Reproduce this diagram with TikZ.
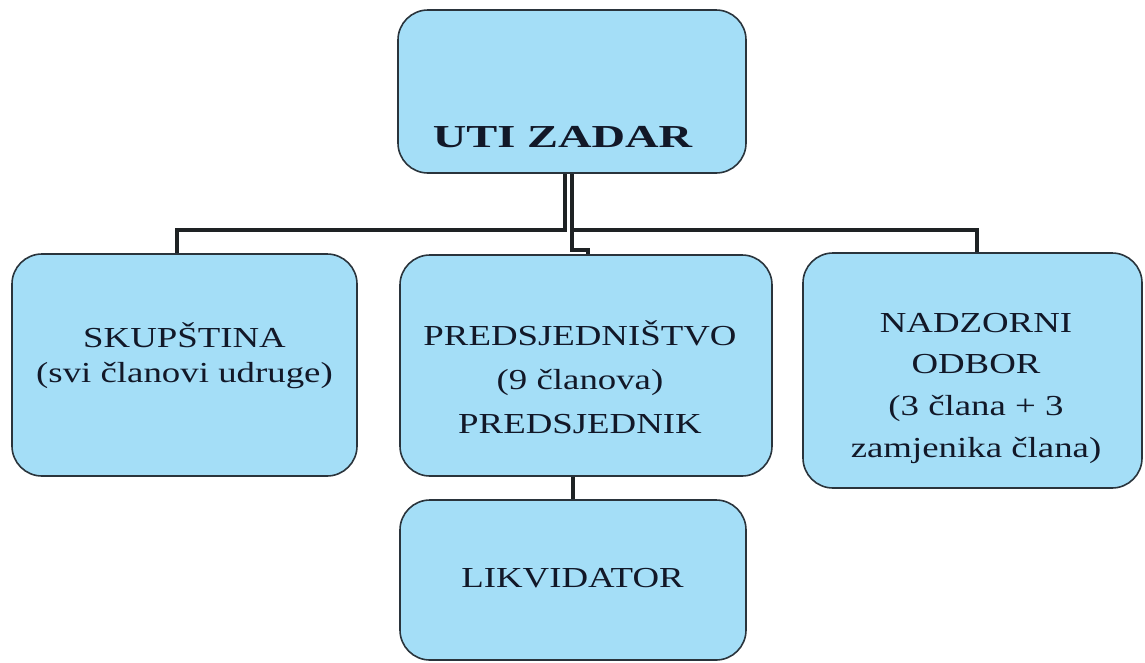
\documentclass[tikz,border=0pt]{standalone}
\usepackage{fontspec}
\setmainfont{Liberation Serif}[FakeStretch=1.27]
\newfontfamily\titlefont{Liberation Serif}[FakeStretch=1.45]
\usetikzlibrary{backgrounds}
\definecolor{boxfill}{RGB}{164,222,247}
\definecolor{boxline}{RGB}{42,52,60}
\definecolor{connline}{RGB}{30,34,36}
\definecolor{txt}{RGB}{18,24,40}
\tikzset{
  box/.style={draw=boxline, fill=boxfill, line width=1.6pt, rounded corners=30pt, inner sep=0pt},
  conn/.style={draw=connline, line width=4.5pt, line join=miter},
  lbl/.style={anchor=base, inner sep=0pt, text=txt, font=\fontsize{29}{35}\selectfont},
}
\newcommand\rows[1]{\begin{tabular}[t]{@{}c@{}}#1\end{tabular}}
\begin{document}
\begin{tikzpicture}[x=1pt,y=-1pt]
\useasboundingbox (0,0) rectangle (1145,662);
% boxes
\node[box, minimum width=348pt, minimum height=163pt] (top) at (572,91.5) {};
\node[box, minimum width=345pt, minimum height=222pt] (left) at (184.5,365) {};
\node[box, minimum width=372pt, minimum height=221pt] (mid) at (586,365.5) {};
\node[box, minimum width=339pt, minimum height=235pt] (right) at (972.5,370.5) {};
\node[box, minimum width=346pt, minimum height=160pt] (bot) at (573,580) {};
% texts
\node[lbl, font=\titlefont\bfseries\fontsize{32}{38}\selectfont] (ttop) at (562.5,147) {UTI ZADAR};
\node[lbl] (tleft) at (184.5,347) {\rows{SKUPŠTINA\\(svi članovi udruge)}};
\node[lbl, font=\fontsize{29}{44}\selectfont] (tmid) at (580,345) {\rows{PREDSJEDNIŠTVO\\(9 članova)\\PREDSJEDNIK}};
\node[lbl, font=\fontsize{29}{41.7}\selectfont] (tright) at (976,332) {\rows{NADZORNI\\ODBOR\\(3 člana + 3\\zamjenika člana)}};
\node[lbl] (tbot) at (572.5,587) {LIKVIDATOR};
% connectors
\coordinate (jl) at (565,230);
\coordinate (jr) at (572,230);
\coordinate (jm) at (572,250);
\coordinate (jm2) at (588,250);
\begin{scope}[on background layer]
\draw[conn] (top.south -| jl) -- (jl) -| ([xshift=-7.5pt]left.north);
\draw[conn] (top.south -| jr) -- (jr) -| ([xshift=4.5pt]right.north);
\draw[conn] (jr) -- (jm) -- (jm2) -- (mid.north -| jm2);
\draw[conn] (bot.north) -- (bot.north |- mid.south);
\end{scope}
\end{tikzpicture}
\end{document}
